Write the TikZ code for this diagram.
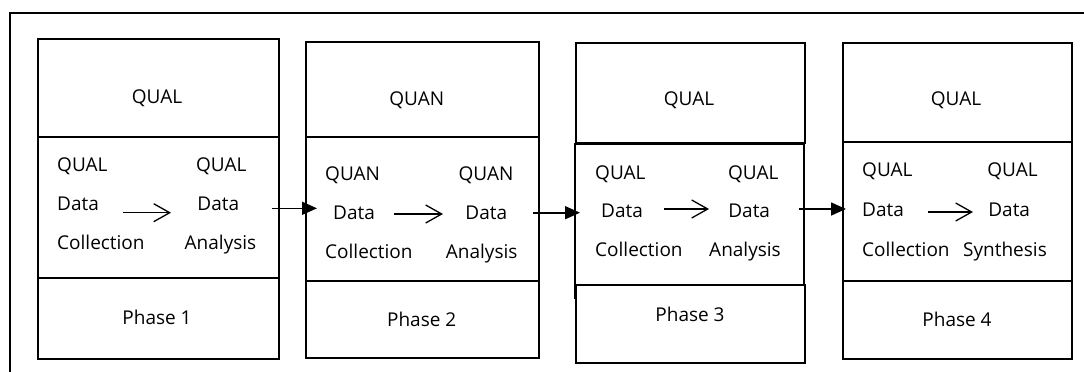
\documentclass[tikz,border=0pt]{standalone}
\usepackage{fontspec}
\setmainfont{Open Sans}
\usetikzlibrary{arrows.meta}
\begin{document}
\begin{tikzpicture}[x=1pt,y=-1pt,
  sec/.style={draw, line width=2pt, fill=white, inner sep=0pt, anchor=north west},
  lbl/.style={inner sep=0pt, font=\fontsize{19}{22}\selectfont, anchor=base},
  lbll/.style={lbl, anchor=base west},
  flow/.style={line width=1.3pt, -{Straight Barb[length=16pt,width=18pt,line width=1.3pt]}},
  link/.style={line width=1.6pt, -{Triangle[length=15pt,width=13pt]}}]
\useasboundingbox (0,0) rectangle (1084,372);
% outer frame
\draw[line width=2.3pt] (10,372) -- (10,13) -- (1084,13);
% box 1
\node[sec, minimum width=241, minimum height=98] (b1t) at (37,38) {};
\node[sec, minimum width=241, minimum height=141] (b1m) at (37,136) {};
\node[sec, minimum width=241, minimum height=81] (b1b) at (37,277) {};
% box 2
\node[sec, minimum width=233, minimum height=95] (b2t) at (305,41) {};
\node[sec, minimum width=233, minimum height=144] (b2m) at (305,136) {};
\node[sec, minimum width=233, minimum height=77] (b2b) at (305,280) {};
% box 3
\node[sec, minimum width=229, minimum height=100] (b3t) at (575,42) {};
\node[sec, minimum width=229, minimum height=154] (b3m) at (574,143) {};
\node[sec, minimum width=229, minimum height=78] (b3b) at (575,284) {};
% box 4
\node[sec, minimum width=229, minimum height=99] (b4t) at (842,42) {};
\node[sec, minimum width=229, minimum height=139] (b4m) at (842,141) {};
\node[sec, minimum width=229, minimum height=78] (b4b) at (842,280) {};

% texts box 1
\node[lbl] (t1) at (157,103.5) {QUAL};
\node[lbll] (l1a) at (57,171) {QUAL};
\node[lbll] (l1b) at (57,210) {Data};
\node[lbll] (l1c) at (57,249) {Collection};
\node[lbl] (r1a) at (221.3,171) {QUAL};
\node[lbl] (r1b) at (218.3,210) {Data};
\node[lbl] (r1c) at (220.5,249) {Analysis};
\node[lbl] (p1) at (157,324) {Phase 1};
% texts box 2
\node[lbl] (t2) at (416.7,105.5) {QUAN};
\node[lbll] (l2a) at (325,180) {QUAN};
\node[lbll] (l2b) at (333,219) {Data};
\node[lbll] (l2c) at (325,258) {Collection};
\node[lbl] (r2a) at (486,180) {QUAN};
\node[lbl] (r2b) at (486.3,219) {Data};
\node[lbl] (r2c) at (481.7,258) {Analysis};
\node[lbl] (p2) at (421.7,326) {Phase 2};
% texts box 3
\node[lbl] (t3) at (689,105) {QUAL};
\node[lbll] (l3a) at (595,179) {QUAL};
\node[lbll] (l3b) at (601,217) {Data};
\node[lbll] (l3c) at (595,256.6) {Collection};
\node[lbl] (r3a) at (753.3,179) {QUAL};
\node[lbl] (r3b) at (749.2,217) {Data};
\node[lbl] (r3c) at (745,256.6) {Analysis};
\node[lbl] (p3) at (690,321) {Phase 3};
% texts box 4
\node[lbl] (t4) at (956,105) {QUAL};
\node[lbll] (l4a) at (862,176.7) {QUAL};
\node[lbll] (l4b) at (862,216) {Data};
\node[lbll] (l4c) at (862,256) {Collection};
\node[lbl] (r4a) at (1012.5,176.7) {QUAL};
\node[lbl] (r4b) at (1009.2,216) {Data};
\node[lbl] (r4c) at (1005,256) {Synthesis};
\node[lbl] (p4) at (957,326) {Phase 4};

% inner arrows
\coordinate (f1s) at (123,212.7); \coordinate (f1e) at (171,212.7);
\coordinate (f2s) at (394,214);   \coordinate (f2e) at (443,214);
\coordinate (f3s) at (664,209);   \coordinate (f3e) at (709,209);
\coordinate (f4s) at (928,212);   \coordinate (f4e) at (973,212);
\draw[flow] (f1s) -- (f1e);
\draw[flow] (f2s) -- (f2e);
\draw[flow] (f3s) -- (f3e);
\draw[flow] (f4s) -- (f4e);

% links between phases
\coordinate (a1s) at (272,208.3); \coordinate (a1e) at (317,208.3);
\coordinate (a2s) at (533,212.7); \coordinate (a2e) at (580,212.7);
\coordinate (a3s) at (799,209);   \coordinate (a3e) at (846,209);
\draw[link] (a1s) -- (a1e);
\draw[link] (a2s) -- (a2e);
\draw[link] (a3s) -- (a3e);
\end{tikzpicture}
\end{document}
